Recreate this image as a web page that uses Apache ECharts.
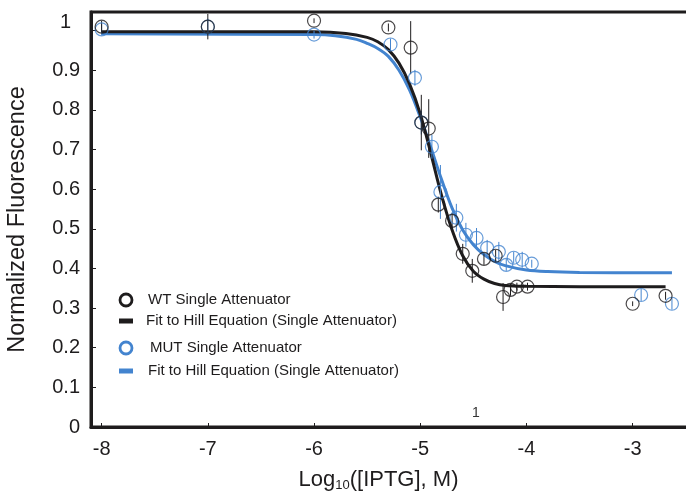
<!DOCTYPE html>
<html>
<head>
<meta charset="utf-8">
<script src="https://cdn.jsdelivr.net/npm/echarts@6/dist/echarts.min.js"></script>
<style>
html,body{margin:0;padding:0;background:#fff;}
#chart{width:686px;height:493px;}
</style>
</head>
<body>
<div id="chart"></div>
<script>
// ---- data ----
var wtX   = [-8.0, -7.0, -6.0, -5.30, -5.09, -4.99, -4.92, -4.83, -4.70, -4.60, -4.51, -4.40, -4.29, -4.22, -4.15, -4.09, -3.99, -3.00, -2.69];
var wtY   = [1.010, 1.010, 1.025, 1.008, 0.957, 0.768, 0.753, 0.561, 0.520, 0.437, 0.394, 0.424, 0.432, 0.328, 0.346, 0.354, 0.354, 0.311, 0.331];
var wtErr = [0.015, 0.032, 0.006, 0.010, 0.067, 0.070, 0.074, 0.020, 0.020, 0.025, 0.030, 0.015, 0.015, 0.035, 0.015, 0.010, 0.010, 0.006, 0.010];

var mutX   = [-8.0, -7.0, -6.0, -5.28, -5.05, -4.99, -4.89, -4.81, -4.66, -4.57, -4.47, -4.37, -4.26, -4.19, -4.12, -4.04, -3.95, -2.92, -2.63];
var mutY   = [1.003, 1.010, 0.990, 0.965, 0.881, 0.768, 0.707, 0.593, 0.528, 0.485, 0.477, 0.452, 0.442, 0.409, 0.427, 0.422, 0.412, 0.333, 0.311];
var mutErr = [0.015, 0.020, 0.010, 0.015, 0.020, 0.030, 0.030, 0.068, 0.035, 0.030, 0.025, 0.020, 0.025, 0.015, 0.015, 0.020, 0.010, 0.015, 0.015];

var wtFitX  = [-8.0, -6.0, -5.7, -5.5, -5.4, -5.3, -5.2, -5.1, -5.0, -4.9, -4.8, -4.7, -4.6, -4.5, -4.4, -4.3, -4.2, -4.0, -3.5, -2.69];
var wtFitY  = [0.997, 0.997, 0.993, 0.983, 0.972, 0.952, 0.918, 0.865, 0.790, 0.690, 0.585, 0.497, 0.432, 0.393, 0.373, 0.362, 0.357, 0.355, 0.354, 0.354];

var mutFitX = [-8.0, -6.0, -5.8, -5.6, -5.5, -5.4, -5.3, -5.2, -5.1, -5.0, -4.9, -4.8, -4.7, -4.6, -4.5, -4.4, -4.3, -4.2, -4.0, -3.8, -3.5, -2.63];
var mutFitY = [0.992, 0.990, 0.987, 0.978, 0.968, 0.955, 0.935, 0.900, 0.850, 0.782, 0.705, 0.625, 0.552, 0.497, 0.460, 0.435, 0.418, 0.407, 0.396, 0.392, 0.390, 0.389];

var legendNames = ['WT Single Attenuator', 'Fit to Hill Equation (Single Attenuator)', 'MUT Single Attenuator', 'Fit to Hill Equation (Single Attenuator)'];
var xTitle = 'Log{sub|10}([IPTG], M)';
var yTitle = 'Normalized Fluorescence';

// ---- styling ----
var BLACK = '#1e1c1d';
var BLUE = '#4384cf';
var FONT = '"Liberation Sans", Arial, Helvetica, sans-serif';

function pairs(xs, ys) { return xs.map(function (x, i) { return [x, ys[i]]; }); }
function errData(xs, ys, es) { return xs.map(function (x, i) { return [x, ys[i] - es[i], ys[i] + es[i]]; }); }

function errRender(color) {
  return function (params, api) {
    var p1 = api.coord([api.value(0), api.value(1)]);
    var p2 = api.coord([api.value(0), api.value(2)]);
    return { type: 'line', shape: { x1: p1[0], y1: p1[1], x2: p2[0], y2: p2[1] },
      style: { stroke: color, lineWidth: 1 } };
  };
}

var chart = echarts.init(document.getElementById('chart'), null, { renderer: 'canvas' });

var legendY = [300, 321, 348, 371];
var graphics = [];
graphics.push({ type: 'circle', shape: { cx: 126, cy: legendY[0], r: 6 }, style: { fill: 'none', stroke: BLACK, lineWidth: 2.8 } });
graphics.push({ type: 'rect', shape: { x: 119, y: legendY[1] - 2.5, width: 14, height: 5 }, style: { fill: BLACK } });
graphics.push({ type: 'circle', shape: { cx: 126, cy: legendY[2], r: 6 }, style: { fill: 'none', stroke: BLUE, lineWidth: 2.8 } });
graphics.push({ type: 'rect', shape: { x: 119, y: legendY[3] - 2.5, width: 14, height: 5 }, style: { fill: BLUE } });
var textX = [148, 146, 150, 148];
legendNames.forEach(function (n, i) {
  graphics.push({ type: 'text', x: textX[i], y: legendY[i], style: { text: n, fill: BLACK, font: '15px ' + FONT, textVerticalAlign: 'middle' } });
});
graphics.push({ type: 'text', x: 476, y: 413, style: { text: '1', fill: '#333', font: '14px ' + FONT, textAlign: 'center', textVerticalAlign: 'middle' } });

var option = {
  animation: false,
  backgroundColor: '#fff',
  grid: { left: 91, top: 12, right: -4, bottom: 66, containLabel: false, outerBoundsMode: 'none',
    show: true, borderColor: BLACK, borderWidth: 3, backgroundColor: 'transparent' },
  xAxis: {
    type: 'value', min: -8.1, max: -2.46, minInterval: 1, maxInterval: 1,
    axisLine: { show: true, onZero: false, lineStyle: { color: BLACK, width: 3 } },
    axisTick: { show: true, inside: true, length: 4, lineStyle: { color: BLACK, width: 1 } },
    axisLabel: { showMinLabel: false, showMaxLabel: false, color: '#1e1c1d', fontSize: 20, fontFamily: FONT, margin: 12 },
    splitLine: { show: false },
    name: xTitle, nameLocation: 'middle', nameGap: 40,
    nameTextStyle: { color: BLACK, fontSize: 22, fontFamily: FONT, padding: [0, 24, 0, 0],
      rich: { sub: { fontSize: 13, verticalAlign: 'bottom', padding: [12, 0, 0, 0], fontFamily: FONT, color: BLACK } } }
  },
  yAxis: {
    type: 'value', min: 0, max: 1.047, interval: 0.1,
    axisLine: { show: true, onZero: false, lineStyle: { color: BLACK, width: 3 } },
    axisTick: { show: true, inside: true, length: 5, lineStyle: { color: BLACK, width: 1 } },
    axisLabel: { showMaxLabel: false, color: '#1e1c1d', fontSize: 20, fontFamily: FONT, margin: 11,
      formatter: function (v) { return Math.abs(v - 1) < 1e-9 ? '{one|1}' : String(+v.toFixed(1)); },
      rich: { one: { fontSize: 20, fontFamily: FONT, color: '#1e1c1d', padding: [0, 9, 16, 0] } } },
    splitLine: { show: false },
    name: yTitle, nameLocation: 'middle', nameGap: 61, nameRotate: 90,
    nameTextStyle: { color: BLACK, fontSize: 23.5, fontFamily: FONT }
  },
  series: [
    { name: 'mutFit', type: 'line', data: pairs(mutFitX, mutFitY), smooth: 0.35, showSymbol: false, symbol: 'none',
      lineStyle: { color: BLUE, width: 3 }, z: 2 },
    { name: 'wtFit', type: 'line', data: pairs(wtFitX, wtFitY), smooth: 0.35, showSymbol: false, symbol: 'none',
      lineStyle: { color: BLACK, width: 3 }, z: 3 },
    { name: 'mutErr', type: 'custom', renderItem: errRender(BLUE), data: errData(mutX, mutY, mutErr), z: 4 },
    { name: 'wtErr', type: 'custom', renderItem: errRender(BLACK), data: errData(wtX, wtY, wtErr), z: 5 },
    { name: 'MUT', type: 'scatter', data: pairs(mutX, mutY), symbol: 'circle', symbolSize: 13,
      itemStyle: { color: 'rgba(0,0,0,0)', borderColor: BLUE, borderWidth: 1.2 }, z: 6 },
    { name: 'WT', type: 'scatter', data: pairs(wtX, wtY), symbol: 'circle', symbolSize: 13,
      itemStyle: { color: 'rgba(0,0,0,0)', borderColor: BLACK, borderWidth: 1.2 }, z: 7 }
  ],
  graphic: graphics
};
chart.setOption(option);
</script>
</body>
</html>
